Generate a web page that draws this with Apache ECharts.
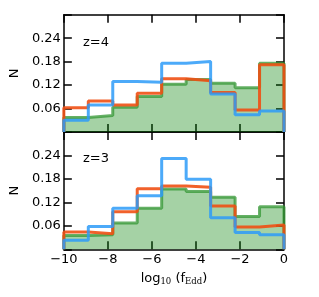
<!DOCTYPE html>
<html><head><meta charset="utf-8">
<script src="https://cdn.jsdelivr.net/npm/echarts@6/dist/echarts.min.js"></script>
<style>html,body{margin:0;padding:0;background:#fff}#c{width:319px;height:297px}</style>
</head><body><div id="c"></div>
<script>
const binEdges = [-10, -8.889, -7.778, -6.667, -5.556, -4.444, -3.333, -2.222, -1.111, 0];
const xTicks = [-10, -8, -6, -4, -2, 0];
const yTicks = [0.06, 0.12, 0.18, 0.24];
const panelLabels = ['z=4', 'z=3'];

const green4  = [0.037, 0.042, 0.063, 0.091, 0.122, 0.134, 0.125, 0.113, 0.176];
const orange4 = [0.062, 0.079, 0.069, 0.099, 0.136, 0.131, 0.101, 0.056, 0.172];
const blue4   = [0.030, 0.069, 0.129, 0.127, 0.176, 0.180, 0.097, 0.044, 0.054];

const green3  = [0.035, 0.037, 0.067, 0.105, 0.154, 0.148, 0.133, 0.084, 0.109];
const orange3 = [0.044, 0.040, 0.096, 0.155, 0.162, 0.159, 0.111, 0.057, 0.062];
const blue3   = [0.023, 0.058, 0.105, 0.137, 0.232, 0.179, 0.081, 0.043, 0.037];

function stepData(vals) {
  const d = [[binEdges[0], 0]];
  for (let i = 0; i < vals.length; i++) d.push([binEdges[i], vals[i]]);
  d.push([binEdges[binEdges.length - 1], vals[vals.length - 1]]);
  d.push([binEdges[binEdges.length - 1], 0]);
  return d;
}

const FONT = 'DejaVu Sans';
const axisLineStyle = {color: '#000', width: 1.5};
const tick = {show: true, inside: true, length: 8, lineStyle: {color: '#000', width: 1.5}};
const fmtX = v => (xTicks.includes(v) ? String(v).replace('-', '\u2212') : '');
const fmtY = v => {
  const r = Math.round(v * 100) / 100;
  return yTicks.includes(r) ? r.toFixed(2) : '';
};

const grids = [
  {left: 61, right: 35, top: 14.7, height: 117.3},
  {left: 61, right: 35, top: 132, height: 117.3}
];

const xAxes = [], yAxes = [];
for (let g = 0; g < 2; g++) {
  xAxes.push({
    type: 'value', gridIndex: g, min: -10, max: 0, interval: 2, position: 'bottom',
    axisLine: {show: true, onZero: false, lineStyle: axisLineStyle},
    axisTick: tick, splitLine: {show: false},
    axisLabel: {show: g === 1, formatter: fmtX, fontFamily: FONT, fontSize: 13, color: '#000', margin: 4},
    name: g === 1 ? '{a|log}{s|10}{a| (f}{s|Edd}{a|)}' : '',
    nameLocation: 'middle', nameGap: 22,
    nameTextStyle: {
      rich: {
        a: {fontFamily: FONT, fontSize: 13, color: '#000'},
        s: {fontFamily: 'DejaVu Serif', fontSize: 8.5, color: '#000', verticalAlign: 'bottom', padding: [6, 0, 0, 0]}
      }
    }
  });
  xAxes.push({
    type: 'value', gridIndex: g, min: -10, max: 0, interval: 2, position: 'top',
    axisLine: {show: true, onZero: false, lineStyle: axisLineStyle},
    axisTick: tick, splitLine: {show: false}, axisLabel: {show: false}
  });
  yAxes.push({
    type: 'value', gridIndex: g, min: 0, max: 0.3, interval: 0.06, position: 'left',
    axisLine: {show: true, onZero: false, lineStyle: axisLineStyle},
    axisTick: tick, splitLine: {show: false},
    axisLabel: {formatter: fmtY, fontFamily: FONT, fontSize: 13, color: '#000', margin: 3},
    name: 'N', nameLocation: 'middle', nameGap: 32,
    nameTextStyle: {fontFamily: FONT, fontSize: 13, color: '#000'}
  });
  yAxes.push({
    type: 'value', gridIndex: g, min: 0, max: 0.3, interval: 0.06, position: 'right',
    axisLine: {show: true, onZero: false, lineStyle: axisLineStyle},
    axisTick: tick, splitLine: {show: false}, axisLabel: {show: false}
  });
}

function mk(vals, g, kind) {
  const s = {
    type: 'line', step: 'end', data: stepData(vals),
    xAxisIndex: g * 2, yAxisIndex: g * 2, symbol: 'none', silent: true,
    animation: false, clip: true
  };
  if (kind === 'green') {
    s.lineStyle = {color: 'rgba(50,150,50,0.75)', width: 3};
    s.areaStyle = {color: 'rgba(0,128,0,0.5)', origin: 'start'};
    s.z = 1;
  } else if (kind === 'orange') {
    s.lineStyle = {color: 'rgba(240,80,20,0.9)', width: 3};
    s.z = 2;
  } else {
    s.lineStyle = {color: 'rgba(45,155,248,0.85)', width: 3};
    s.z = 3;
  }
  return s;
}

const series = [
  mk(green4, 0, 'green'), mk(orange4, 0, 'orange'), mk(blue4, 0, 'blue'),
  mk(green3, 1, 'green'), mk(orange3, 1, 'orange'), mk(blue3, 1, 'blue')
];

const chart = echarts.init(document.getElementById('c'), null, {renderer: 'canvas'});
chart.setOption({
  animation: false,
  grid: grids, xAxis: xAxes, yAxis: yAxes, series: series,
  graphic: [
    {type: 'text', left: 83, top: 36, style: {text: panelLabels[0], font: '13px "DejaVu Sans"', fill: '#000'}, z: 10},
    {type: 'text', left: 83, top: 152.5, style: {text: panelLabels[1], font: '13px "DejaVu Sans"', fill: '#000'}, z: 10}
  ]
});
</script></body></html>
